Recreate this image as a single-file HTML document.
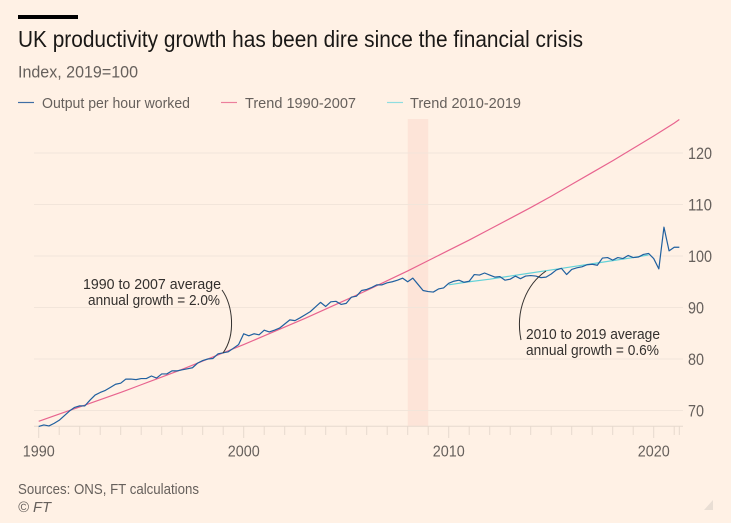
<!DOCTYPE html>
<html lang="en">
<head>
<meta charset="utf-8">
<title>UK productivity growth</title>
<style>
html,body{margin:0;padding:0;background:#fff1e5;}
svg{display:block;font-family:"Liberation Sans",sans-serif;}
</style>
</head>
<body>
<svg id="chart" xmlns="http://www.w3.org/2000/svg" width="731" height="523" viewBox="0 0 731 523">
<rect x="0" y="0" width="731" height="523" fill="#fff1e5"/>
<rect x="18" y="15" width="60" height="4" fill="#000"/>
<text x="18" y="47" font-size="23" fill="#1a1816" textLength="565" lengthAdjust="spacingAndGlyphs">UK productivity growth has been dire since the financial crisis</text>
<text x="18" y="77.5" font-size="16.5" fill="#66605c" textLength="120" lengthAdjust="spacingAndGlyphs">Index, 2019=100</text>
<g>
<line x1="18" x2="34" y1="102.5" y2="102.5" stroke="#3f6ea5" stroke-width="1.2"/>
<text x="42" y="108" font-size="15" fill="#66605c" textLength="148" lengthAdjust="spacingAndGlyphs">Output per hour worked</text>
<line x1="221" x2="237" y1="102.5" y2="102.5" stroke="#ec7f9c" stroke-width="1.2"/>
<text x="245" y="108" font-size="15" fill="#66605c" textLength="111" lengthAdjust="spacingAndGlyphs">Trend 1990-2007</text>
<line x1="387" x2="403" y1="102.5" y2="102.5" stroke="#8fdde0" stroke-width="1.2"/>
<text x="410" y="108" font-size="15" fill="#66605c" textLength="111" lengthAdjust="spacingAndGlyphs">Trend 2010-2019</text>
</g>
<g id="plot"></g>
<g>
<text x="83" y="289" font-size="15" fill="#33302e" textLength="138" lengthAdjust="spacingAndGlyphs">1990 to 2007 average</text>
<text x="88" y="305" font-size="15" fill="#33302e" textLength="132" lengthAdjust="spacingAndGlyphs">annual growth = 2.0%</text>
<path d="M222 290 C233 305,236 335,223 353" fill="none" stroke="#33302e" stroke-width="1"/>
<text x="526" y="339" font-size="15" fill="#33302e" textLength="134" lengthAdjust="spacingAndGlyphs">2010 to 2019 average</text>
<text x="526" y="355" font-size="15" fill="#33302e" textLength="133" lengthAdjust="spacingAndGlyphs">annual growth = 0.6%</text>
<path d="M546 271 C527 284,515 310,521 340" fill="none" stroke="#33302e" stroke-width="1"/>
</g>
<text x="18" y="494" font-size="15" fill="#66605c" textLength="181" lengthAdjust="spacingAndGlyphs">Sources: ONS, FT calculations</text>
<text x="18" y="512" font-size="15" font-style="italic" fill="#66605c" textLength="33" lengthAdjust="spacingAndGlyphs">© FT</text>
<polygon points="713,500 713,510 704,510" fill="#e9ded4"/>
</svg>
<script>
const outputStartYear = 1990;
const outputStepYears = 0.25;
const outputValues = [
66.9,67.2,67.0,67.5,68.1,69.0,69.9,70.6,70.9,70.9,72.0,73.0,73.5,73.9,74.5,75.1,75.3,76.1,76.1,76.0,
76.2,76.2,76.7,76.3,77.1,77.1,77.7,77.7,77.9,78.1,78.3,79.2,79.7,80.0,80.1,81.0,81.2,81.4,82.1,82.8,
84.9,84.5,84.9,84.7,85.6,85.25,85.6,86.0,86.8,87.6,87.45,88.0,88.6,89.2,90.1,91.0,90.2,91.1,91.2,90.6,
90.8,92.0,92.2,93.3,93.5,93.9,94.4,94.4,94.8,95.0,95.3,95.7,95.0,95.7,94.5,93.3,93.1,93.0,93.6,93.8,
94.7,95.1,95.3,94.9,95.1,96.4,96.3,96.7,96.3,95.9,96.0,95.3,95.5,96.1,95.6,96.1,96.2,96.1,95.8,95.9,
96.5,97.3,97.6,96.4,97.4,97.7,97.9,98.3,98.4,98.2,99.6,99.7,99.2,99.7,99.5,100.1,99.7,99.8,100.3,100.5,
99.5,97.5,105.6,101.0,101.7,101.7
];
const trendOldYears = [1990,1991,1992,1993,1994,1995,1996,1997,1998,1999,2000,2001,2002,2003,2004,2005,2006,2007,2008,2009,2010,2011,2012,2013,2014,2015,2016,2017,2018,2019,2020,2021,2021.25];
const trendOldValues = [67.9,69.3,70.7,72.1,73.5,75.0,76.5,78.0,79.6,81.2,82.8,84.5,86.2,87.9,89.7,91.5,93.3,95.2,97.1,99.1,101.1,103.1,105.2,107.3,109.4,111.6,113.9,116.2,118.5,120.9,123.3,125.8,126.5];
const trendNewYears = [2010,2011,2012,2013,2014,2015,2016,2017,2018,2019,2019.75];
const trendNewValues = [94.4,95.0,95.5,96.1,96.7,97.3,97.9,98.5,99.1,99.7,100.2];
const yTicks = [70,80,90,100,110,120];
const xLabelYears = [1990,2000,2010,2020];
const xTickYears = [1990,1991,1992,1993,1994,1995,1996,1997,1998,1999,2000,2001,2002,2003,2004,2005,2006,2007,2008,2009,2010,2011,2012,2013,2014,2015,2016,2017,2018,2019,2020,2021,2021.25];
const crisisStart = 2008;
const crisisEnd = 2009;

const SVGNS = 'http://www.w3.org/2000/svg';
const plot = document.getElementById('plot');
function xScale(year){ return 38.7 + (year - 1990) * 20.5; }
function yScale(v){ return 256 - (v - 100) * 5.15; }
function mk(tag, attrs){
  const el = document.createElementNS(SVGNS, tag);
  for (const k in attrs) el.setAttribute(k, attrs[k]);
  plot.appendChild(el);
  return el;
}
function pathFrom(years, values){
  return years.map((y,i)=>(i?'L':'M')+xScale(y).toFixed(2)+' '+yScale(values[i]).toFixed(2)).join(' ');
}

const band = mk('rect', {x:xScale(crisisStart), y:119, width:xScale(crisisEnd)-xScale(crisisStart), height:426.3-119, fill:'#fde4d8'});



yTicks.forEach(v=>{
  const g = mk('line', {x1:34, x2:683, y1:yScale(v), y2:yScale(v), stroke:'#f2e5da', 'stroke-width':1});
  
  
  const t = mk('text', {x:688, y:yScale(v)+6, 'font-size':16.5, fill:'#66605c', textLength:24, lengthAdjust:'spacingAndGlyphs'});
  t.textContent = v;
  if (v < 100) t.setAttribute('textLength', 16);
  
  
});

const axis = mk('line', {x1:34, x2:683, y1:426.3, y2:426.3, stroke:'#e6d9ce', 'stroke-width':1});



xTickYears.forEach(y=>{
  const major = xLabelYears.includes(y);
  const tick = mk('line', {x1:xScale(y), x2:xScale(y), y1:426.3, y2:major?438:435, stroke:'#e6d9ce', 'stroke-width':1});
  
  
});
xLabelYears.forEach(y=>{
  const t = mk('text', {x:xScale(y)-16, y:456.5, 'font-size':16, fill:'#66605c', textLength:32, lengthAdjust:'spacingAndGlyphs'});
  t.textContent = y;
  
  
});

const oldTrend = mk('path', {d:pathFrom(trendOldYears, trendOldValues), fill:'none', stroke:'#e8648f', 'stroke-width':1.2});



const newTrend = mk('path', {d:pathFrom(trendNewYears, trendNewValues), fill:'none', stroke:'#63d2d8', 'stroke-width':1.2});



const outputYears = outputValues.map((_,i)=>outputStartYear + i*outputStepYears);
const output = mk('path', {d:pathFrom(outputYears, outputValues), fill:'none', stroke:'#20609f', 'stroke-width':1.2, 'stroke-linejoin':'round'});


</script>
</body>
</html>
